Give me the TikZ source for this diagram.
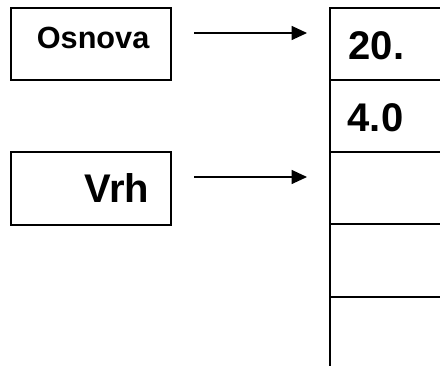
\documentclass[tikz,border=0pt]{standalone}
\usepackage{fontspec}
\setmainfont{Liberation Sans}
\usetikzlibrary{arrows.meta}

\tikzset{every picture/.style={line width=1pt}}
\tikzset{
  lbl/.style={font=\bfseries\fontsize{23}{28}\selectfont, inner sep=0pt},
  biglbl/.style={font=\bfseries\fontsize{30}{36}\selectfont, inner sep=0pt},
  ptr/.style={-{Triangle[length=11.5pt,width=10.5pt]}, line width=0.9pt}
}

\begin{document}
\begin{tikzpicture}[x=0.75pt,y=0.75pt,yscale=-1,xscale=1]
	\useasboundingbox (0,0) rectangle (440,366);

	%Shape: Rectangle [osnova box]
	\draw  (11,8) rectangle (171,80) ;
	%Shape: Rectangle [vrh box]
	\draw  (11,152) rectangle (171,225) ;

	%Straight Lines [stack left side and top]
	\draw    (330,366) -- (330,8) -- (440,8) ;
	%Straight Lines [stack cells]
	\foreach \y in {80,152,224,297} {
		\draw    (330,\y) -- (440,\y) ;
	}

	% Text Node
	\node [lbl, anchor=base east] (osnova) at (150,49) {Osnova};
	% Text Node
	\node [biglbl, anchor=base east] (vrh) at (150,203) {Vrh};
	% Text Node
	\node [biglbl, anchor=base west] (celA) at (348,60) {20.};
	% Text Node
	\node [biglbl, anchor=base west] (celB) at (347,132) {4.0};

	%Straight Lines [pointers]
	\coordinate (osnovaFrom) at (194,33);
	\coordinate (osnovaTo) at (307,33);
	\coordinate (vrhFrom) at (194,177);
	\coordinate (vrhTo) at (307,177);
	\draw [ptr] (osnovaFrom) -- (osnovaTo) ;
	\draw [ptr] (vrhFrom) -- (vrhTo) ;

\end{tikzpicture}
\end{document}
